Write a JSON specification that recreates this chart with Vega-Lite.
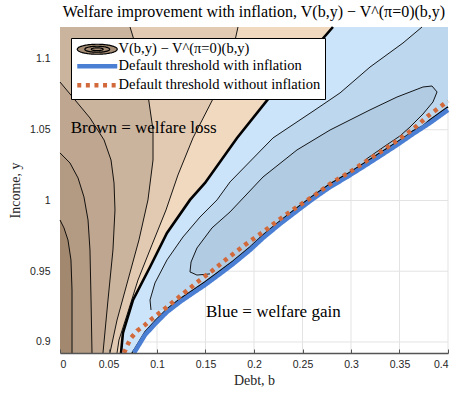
{
"$schema": "https://vega.github.io/schema/vega-lite/v6.json",
"width": 388, "height": 326,
"autosize": {"type": "none"},
"padding": {"left": 60, "top": 27, "right": 12, "bottom": 41},
"title": {"text": "Welfare improvement with inflation, V(b,y) − V^(π=0)(b,y)", "font": "Liberation Serif", "fontSize": 16, "fontWeight": "normal", "color": "#000000", "anchor": "middle", "offset": 2},
"config": {"view": {"stroke": null}},
"data": {"values": [
{"c":"B0","b":0,"y":0.8922},{"c":"B0","b":0,"y":1.1226},
{"c":"La","i":0,"b":0,"y":0.9862},{"c":"La","i":1,"b":0.0041,"y":0.9806},{"c":"La","i":2,"b":0.0082,"y":0.9721},{"c":"La","i":3,"b":0.0113,"y":0.958},{"c":"La","i":4,"b":0.0124,"y":0.9367},{"c":"La","i":5,"b":0.0124,"y":0.9085},{"c":"La","i":6,"b":0.0124,"y":0.8922},{"c":"La","i":-1,"b":0,"y":1.1226,"e":1},
{"c":"L1","i":0,"b":0,"y":1.0336},{"c":"L1","i":1,"b":0.0103,"y":1.0265},{"c":"L1","i":2,"b":0.0186,"y":1.0159},{"c":"L1","i":3,"b":0.0247,"y":1.0025},{"c":"L1","i":4,"b":0.0289,"y":0.9862},{"c":"L1","i":5,"b":0.0309,"y":0.965},{"c":"L1","i":6,"b":0.032,"y":0.9297},{"c":"L1","i":7,"b":0.033,"y":0.8922},{"c":"L1","i":-1,"b":0,"y":1.1226,"e":1},
{"c":"L2","i":0,"b":0,"y":1.0837},{"c":"L2","i":1,"b":0.0155,"y":1.071},{"c":"L2","i":2,"b":0.0309,"y":1.0583},{"c":"L2","i":3,"b":0.0454,"y":1.0428},{"c":"L2","i":4,"b":0.0526,"y":1.0286},{"c":"L2","i":5,"b":0.0557,"y":1.0124},{"c":"L2","i":6,"b":0.0567,"y":0.9933},{"c":"L2","i":7,"b":0.0546,"y":0.965},{"c":"L2","i":8,"b":0.0495,"y":0.9297},{"c":"L2","i":9,"b":0.0443,"y":0.8922},{"c":"L2","i":-1,"b":0,"y":1.1226,"e":1},
{"c":"L3","i":0,"b":0.0722,"y":1.1226},{"c":"L3","i":1,"b":0.0825,"y":1.0993},{"c":"L3","i":2,"b":0.0907,"y":1.0746},{"c":"L3","i":3,"b":0.0959,"y":1.0498},{"c":"L3","i":4,"b":0.0959,"y":1.0286},{"c":"L3","i":5,"b":0.0907,"y":1.0004},{"c":"L3","i":6,"b":0.0814,"y":0.9721},{"c":"L3","i":7,"b":0.0701,"y":0.9438},{"c":"L3","i":8,"b":0.0588,"y":0.9155},{"c":"L3","i":9,"b":0.0515,"y":0.8922},
{"c":"L4","i":0,"b":0.1835,"y":1.1226},{"c":"L4","i":1,"b":0.1794,"y":1.1099},{"c":"L4","i":2,"b":0.1711,"y":1.0922},{"c":"L4","i":3,"b":0.1598,"y":1.0746},{"c":"L4","i":4,"b":0.1371,"y":1.0442},{"c":"L4","i":5,"b":0.1216,"y":1.018},{"c":"L4","i":6,"b":0.1093,"y":0.9933},{"c":"L4","i":7,"b":0.0948,"y":0.9686},{"c":"L4","i":8,"b":0.0804,"y":0.9438},{"c":"L4","i":9,"b":0.0691,"y":0.9191},{"c":"L4","i":10,"b":0.0608,"y":0.9014},{"c":"L4","i":11,"b":0.0588,"y":0.8922},
{"c":"L0","i":0,"b":0.2814,"y":1.1226},{"c":"L0","i":1,"b":0.2474,"y":1.0958},{"c":"L0","i":2,"b":0.2196,"y":1.076},{"c":"L0","i":3,"b":0.1825,"y":1.0442},{"c":"L0","i":4,"b":0.1495,"y":1.0124},{"c":"L0","i":5,"b":0.134,"y":1.0004},{"c":"L0","i":6,"b":0.1103,"y":0.977},{"c":"L0","i":7,"b":0.0928,"y":0.953},{"c":"L0","i":8,"b":0.0753,"y":0.9297},{"c":"L0","i":9,"b":0.0649,"y":0.9064},{"c":"L0","i":10,"b":0.0629,"y":0.8922},
{"c":"OU","i":0,"b":0.3732,"y":1.1226},{"c":"OU","i":1,"b":0.3536,"y":1.1113},{"c":"OU","i":2,"b":0.3196,"y":1.0943},{"c":"OU","i":3,"b":0.2887,"y":1.076},{"c":"OU","i":4,"b":0.2629,"y":1.064},{"c":"OU","i":5,"b":0.2196,"y":1.0442},{"c":"OU","i":6,"b":0.1753,"y":1.0131},{"c":"OU","i":7,"b":0.1619,"y":1.0004},{"c":"OU","i":8,"b":0.1443,"y":0.9883},{"c":"OU","i":9,"b":0.1268,"y":0.9742},{"c":"OU","i":10,"b":0.1103,"y":0.958},{"c":"OU","i":11,"b":0.0979,"y":0.9417},{"c":"OU","i":12,"b":0.0928,"y":0.9297},{"c":"OU","i":13,"b":0.0938,"y":0.9226},
{"c":"DK","b":0.134,"b2":0.4,"y":0.9488},{"c":"DK","b":0.1351,"b2":0.4,"y":0.9565},{"c":"DK","b":0.1412,"b2":0.4,"y":0.9664},{"c":"DK","b":0.1567,"b2":0.4,"y":0.9806},{"c":"DK","b":0.1753,"b2":0.4,"y":0.9919},{"c":"DK","b":0.2093,"b2":0.4,"y":1.0166},{"c":"DK","b":0.2443,"b2":0.4,"y":1.0357},{"c":"DK","b":0.2784,"b2":0.4,"y":1.0498},{"c":"DK","b":0.2845,"b2":0.3608,"y":1.0519},{"c":"DK","b":0.3113,"b2":0.3742,"y":1.0611},{"c":"DK","b":0.3196,"b2":0.3773,"y":1.064},{"c":"DK","b":0.3371,"b2":0.3845,"y":1.0696},{"c":"DK","b":0.3474,"b2":0.3876,"y":1.0731},{"c":"DK","b":0.3608,"b2":0.3887,"y":1.0767},{"c":"DK","b":0.3742,"b2":0.3856,"y":1.0802},{"c":"DK","b":0.3835,"b2":0.3835,"y":1.0809},
{"c":"IN","i":0,"b":0.1546,"y":0.9481},{"c":"IN","i":1,"b":0.1412,"y":0.9473},{"c":"IN","i":2,"b":0.134,"y":0.9495},{"c":"IN","i":3,"b":0.1351,"y":0.9565},{"c":"IN","i":4,"b":0.1412,"y":0.9664},{"c":"IN","i":5,"b":0.1567,"y":0.9806},{"c":"IN","i":6,"b":0.1753,"y":0.9919},{"c":"IN","i":7,"b":0.2093,"y":1.0166},{"c":"IN","i":8,"b":0.2443,"y":1.0357},{"c":"IN","i":9,"b":0.2784,"y":1.0498},{"c":"IN","i":10,"b":0.3196,"y":1.064},{"c":"IN","i":11,"b":0.3474,"y":1.0731},{"c":"IN","i":12,"b":0.3742,"y":1.0802},{"c":"IN","i":13,"b":0.3835,"y":1.0809},{"c":"IN","i":14,"b":0.3887,"y":1.0767},{"c":"IN","i":15,"b":0.3845,"y":1.0696},{"c":"IN","i":16,"b":0.3742,"y":1.0611},{"c":"IN","i":17,"b":0.3608,"y":1.0519},{"c":"IN","i":18,"b":0.3505,"y":1.0456},{"c":"IN","i":19,"b":0.3351,"y":1.0385},{"c":"IN","i":20,"b":0.3144,"y":1.0286},
{"c":"ED","i":0,"b":0.0742,"y":0.8922},{"c":"ED","i":1,"b":0.0763,"y":0.8943},{"c":"ED","i":2,"b":0.0814,"y":0.9},{"c":"ED","i":3,"b":0.0876,"y":0.9071},{"c":"ED","i":4,"b":0.0979,"y":0.9148},{"c":"ED","i":5,"b":0.1103,"y":0.9233},{"c":"ED","i":6,"b":0.1237,"y":0.9304},{"c":"ED","i":7,"b":0.1371,"y":0.9367},{"c":"ED","i":8,"b":0.1495,"y":0.9424},{"c":"ED","i":9,"b":0.1649,"y":0.9502},{"c":"ED","i":10,"b":0.1784,"y":0.9572},{"c":"ED","i":11,"b":0.1959,"y":0.9671},{"c":"ED","i":12,"b":0.2093,"y":0.9756},{"c":"ED","i":13,"b":0.2268,"y":0.9855},{"c":"ED","i":14,"b":0.2443,"y":0.9947},{"c":"ED","i":15,"b":0.2608,"y":1.0032},{"c":"ED","i":16,"b":0.2784,"y":1.0117},{"c":"ED","i":17,"b":0.2959,"y":1.0187},{"c":"ED","i":18,"b":0.3124,"y":1.0258},{"c":"ED","i":19,"b":0.3299,"y":1.0336},{"c":"ED","i":20,"b":0.3474,"y":1.0413},{"c":"ED","i":21,"b":0.3588,"y":1.0463},{"c":"ED","i":22,"b":0.3639,"y":1.0491},{"c":"ED","i":23,"b":0.3742,"y":1.0527},{"c":"ED","i":24,"b":0.3814,"y":1.0569},{"c":"ED","i":25,"b":0.4,"y":1.0661},
{"c":"GV","b":0.1,"y":0.8922,"y2":0.9163},{"c":"GV","b":0.15,"y":0.8922,"y2":0.9424},{"c":"GV","b":0.2,"y":0.8922,"y2":0.9697},{"c":"GV","b":0.25,"y":0.8922,"y2":0.9976},{"c":"GV","b":0.3,"y":0.8922,"y2":1.0205},{"c":"GV","b":0.35,"y":0.8922,"y2":1.0424},{"c":"GV","b":0.4,"y":0.8922,"y2":1.0661},
{"c":"GH","b":0.0814,"b2":0.4,"y":0.9},{"c":"GH","b":0.1649,"b2":0.4,"y":0.95},{"c":"GH","b":0.2546,"b2":0.4,"y":1.0},{"c":"GH","b":0.3665,"b2":0.4,"y":1.05},
{"c":"TH","s":"w","i":0,"b":0.0763,"y":0.8922},{"c":"TH","s":"w","i":1,"b":0.0814,"y":0.8979},{"c":"TH","s":"w","i":2,"b":0.0876,"y":0.9049},{"c":"TH","s":"w","i":3,"b":0.0979,"y":0.9127},{"c":"TH","s":"w","i":4,"b":0.1103,"y":0.9212},{"c":"TH","s":"w","i":5,"b":0.1237,"y":0.9283},{"c":"TH","s":"w","i":6,"b":0.1371,"y":0.9346},{"c":"TH","s":"w","i":7,"b":0.1495,"y":0.9403},{"c":"TH","s":"w","i":8,"b":0.1649,"y":0.9481},{"c":"TH","s":"w","i":9,"b":0.1784,"y":0.9551},{"c":"TH","s":"w","i":10,"b":0.1959,"y":0.965},{"c":"TH","s":"w","i":11,"b":0.2093,"y":0.9735},{"c":"TH","s":"w","i":12,"b":0.2268,"y":0.9834},{"c":"TH","s":"w","i":13,"b":0.2443,"y":0.9926},{"c":"TH","s":"w","i":14,"b":0.2608,"y":1.0011},{"c":"TH","s":"w","i":15,"b":0.2784,"y":1.0095},{"c":"TH","s":"w","i":16,"b":0.2959,"y":1.0166},{"c":"TH","s":"w","i":17,"b":0.3124,"y":1.0237},{"c":"TH","s":"w","i":18,"b":0.3299,"y":1.0314},{"c":"TH","s":"w","i":19,"b":0.3474,"y":1.0392},{"c":"TH","s":"w","i":20,"b":0.3639,"y":1.047},{"c":"TH","s":"w","i":21,"b":0.3814,"y":1.0548},{"c":"TH","s":"w","i":22,"b":0.4,"y":1.064},
{"c":"TH","s":"wo","i":0,"b":0.066,"y":0.8922},{"c":"TH","s":"wo","i":1,"b":0.0691,"y":0.8972},{"c":"TH","s":"wo","i":2,"b":0.0732,"y":0.9028},{"c":"TH","s":"wo","i":3,"b":0.0794,"y":0.9078},{"c":"TH","s":"wo","i":4,"b":0.0876,"y":0.912},{"c":"TH","s":"wo","i":5,"b":0.0959,"y":0.917},{"c":"TH","s":"wo","i":6,"b":0.1052,"y":0.9219},{"c":"TH","s":"wo","i":7,"b":0.1216,"y":0.9311},{"c":"TH","s":"wo","i":8,"b":0.1392,"y":0.941},{"c":"TH","s":"wo","i":9,"b":0.1567,"y":0.9502},{"c":"TH","s":"wo","i":10,"b":0.1732,"y":0.9594},{"c":"TH","s":"wo","i":11,"b":0.1907,"y":0.9686},{"c":"TH","s":"wo","i":12,"b":0.2093,"y":0.9777},{"c":"TH","s":"wo","i":13,"b":0.2268,"y":0.9869},{"c":"TH","s":"wo","i":14,"b":0.2443,"y":0.9954},{"c":"TH","s":"wo","i":15,"b":0.2629,"y":1.0039},{"c":"TH","s":"wo","i":16,"b":0.2814,"y":1.0131},{"c":"TH","s":"wo","i":17,"b":0.299,"y":1.0201},{"c":"TH","s":"wo","i":18,"b":0.3175,"y":1.0286},{"c":"TH","s":"wo","i":19,"b":0.3351,"y":1.0364},{"c":"TH","s":"wo","i":20,"b":0.3454,"y":1.0413},{"c":"TH","s":"wo","i":21,"b":0.3629,"y":1.0498},{"c":"TH","s":"wo","i":22,"b":0.3794,"y":1.0597},{"c":"TH","s":"wo","i":23,"b":0.4,"y":1.0703},
{"c":"TX","b":0.011,"y":1.0477,"t":"Brown = welfare loss"},{"c":"TX","b":0.1505,"y":0.9177,"t":"Blue = welfare gain"}
]},
"encoding": {
  "x": {"field": "b", "type": "quantitative", "scale": {"domain": [0, 0.4], "nice": false, "zero": false},
        "axis": {"title": "Debt, b", "values": [0,0.05,0.1,0.15,0.2,0.25,0.3,0.35,0.4], "format": "~g", "grid": false, "zindex": 1, "domainColor": "#555555", "domainWidth": 1.3, "tickColor": "#555555", "tickSize": -4, "labelPadding": 10, "labelFont": "Liberation Sans", "labelFontSize": 10.5, "labelColor": "#262626", "titleFont": "Liberation Serif", "titleFontSize": 14, "titleFontWeight": "normal", "titleColor": "#262626", "titlePadding": 4}},
  "y": {"field": "y", "type": "quantitative", "scale": {"domain": [0.8922, 1.1226], "nice": false, "zero": false},
        "axis": {"title": "Income, y", "values": [0.9,0.95,1,1.05,1.1], "format": "~g", "grid": false, "domain": false, "ticks": false, "labelPadding": 10, "labelFont": "Liberation Sans", "labelFontSize": 10.5, "labelColor": "#262626", "titleFont": "Liberation Serif", "titleFontSize": 14, "titleFontWeight": "normal", "titleColor": "#262626", "titlePadding": 7}}
},
"layer": [
  {"transform": [{"filter": "datum.c === 'B0'"}], "mark": {"type": "area", "orient": "horizontal", "color": "#a1886f", "opacity": 1}, "encoding": {"x2": {"datum": 0.4}}},
  {"transform": [{"filter": "datum.c === 'La'"}], "mark": {"type": "area", "orient": "horizontal", "color": "#b29a83", "opacity": 1}, "encoding": {"x2": {"datum": 0.4}}},
  {"transform": [{"filter": "datum.c === 'L1'"}], "mark": {"type": "area", "orient": "horizontal", "color": "#bea690", "opacity": 1}, "encoding": {"x2": {"datum": 0.4}}},
  {"transform": [{"filter": "datum.c === 'L2'"}], "mark": {"type": "area", "orient": "horizontal", "color": "#cbb49d", "opacity": 1}, "encoding": {"x2": {"datum": 0.4}}},
  {"transform": [{"filter": "datum.c === 'L3'"}], "mark": {"type": "area", "orient": "horizontal", "color": "#e2cab2", "opacity": 1}, "encoding": {"x2": {"datum": 0.4}}},
  {"transform": [{"filter": "datum.c === 'L4'"}], "mark": {"type": "area", "orient": "horizontal", "color": "#f1d9c0", "opacity": 1}, "encoding": {"x2": {"datum": 0.4}}},
  {"transform": [{"filter": "datum.c === 'L0'"}], "mark": {"type": "area", "orient": "horizontal", "color": "#cce4fa", "opacity": 1}, "encoding": {"x2": {"datum": 0.4}}},
  {"transform": [{"filter": "datum.c === 'OU'"}], "mark": {"type": "area", "orient": "horizontal", "color": "#bdd7ee", "opacity": 1}, "encoding": {"x2": {"datum": 0.4}}},
  {"transform": [{"filter": "datum.c === 'DK'"}], "mark": {"type": "area", "orient": "horizontal", "color": "#b1cbe3", "opacity": 1}, "encoding": {"x2": {"field": "b2"}}},
  {"transform": [{"filter": "datum.c === 'ED'"}], "mark": {"type": "area", "orient": "horizontal", "color": "#ffffff", "opacity": 1}, "encoding": {"x2": {"datum": 0.4}}},
  {"transform": [{"filter": "datum.c === 'GV'"}], "mark": {"type": "rule", "color": "#e3e3e3", "strokeWidth": 1}, "encoding": {"y2": {"field": "y2"}}},
  {"transform": [{"filter": "datum.c === 'GH'"}], "mark": {"type": "rule", "color": "#e3e3e3", "strokeWidth": 1}, "encoding": {"x2": {"field": "b2"}}},
  {"transform": [{"filter": "indexof(['La','L1','L2','L3','L4','OU','IN'], datum.c) >= 0 && !datum.e"}], "mark": {"type": "line", "color": "#000000", "strokeWidth": 0.9}, "encoding": {"detail": {"field": "c"}, "order": {"field": "i"}}},
  {"transform": [{"filter": "datum.c === 'L0'"}], "mark": {"type": "line", "color": "#000000", "strokeWidth": 2.6}, "encoding": {"order": {"field": "i"}}},
  {"transform": [{"filter": "datum.c === 'ED'"}], "mark": {"type": "line", "color": "#000000", "strokeWidth": 1.5}, "encoding": {"order": {"field": "i"}}},
  {"transform": [{"filter": "datum.c === 'TH'"}], "mark": {"type": "line", "strokeWidth": 4.5, "strokeCap": "butt"},
   "encoding": {"order": {"field": "i"},
     "stroke": {"field": "s", "type": "nominal", "scale": {"domain": ["c","w","wo"], "range": ["#000000","#4a7fd4","#d2693a"]},
       "legend": {"title": null, "orient": "none", "legendX": 11, "legendY": 11, "symbolType": "stroke", "symbolSize": 1600, "symbolStrokeWidth": 4.5, "symbolOffset": 15, "labelFont": "Liberation Serif", "labelFontSize": 14.5, "labelColor": "#000000", "labelLimit": 0, "labelOffset": 14, "padding": 4, "rowPadding": 0, "fillColor": "#ffffff", "strokeColor": "#000000", "cornerRadius": 0,
         "labelExpr": "datum.value === 'c' ? 'V(b,y) − V^(π=0)(b,y)' : datum.value === 'w' ? 'Default threshold with inflation' : 'Default threshold without inflation'",
         "encode": {"symbols": {"update": {
           "shape": {"signal": "datum.value === 'c' ? 'M-1,0A1,0.25 0 1,1 1,0A1,0.25 0 1,1 -1,0Z M-0.62,0A0.62,0.15 0 1,1 0.62,0A0.62,0.15 0 1,1 -0.62,0Z M-0.3,0A0.3,0.07 0 1,1 0.3,0A0.3,0.07 0 1,1 -0.3,0Z' : 'stroke'"},
           "fill": {"signal": "datum.value === 'c' ? '#a58c74' : 'transparent'"},
           "strokeWidth": {"signal": "datum.value === 'c' ? 1.2 : 4.5"},
           "strokeDash": {"signal": "datum.value === 'wo' ? [4,5] : [1,0]"}
         }}}
       }
     },
     "strokeDash": {"field": "s", "type": "nominal", "scale": {"domain": ["c","w","wo"], "range": [[1,0],[1,0],[4,4.6]]}, "legend": null}
   }},
  {"transform": [{"filter": "datum.c === 'TX'"}], "mark": {"type": "text", "align": "left", "baseline": "alphabetic", "font": "Liberation Serif", "fontSize": 17, "color": "#000000"}, "encoding": {"text": {"field": "t"}}}
]
}
